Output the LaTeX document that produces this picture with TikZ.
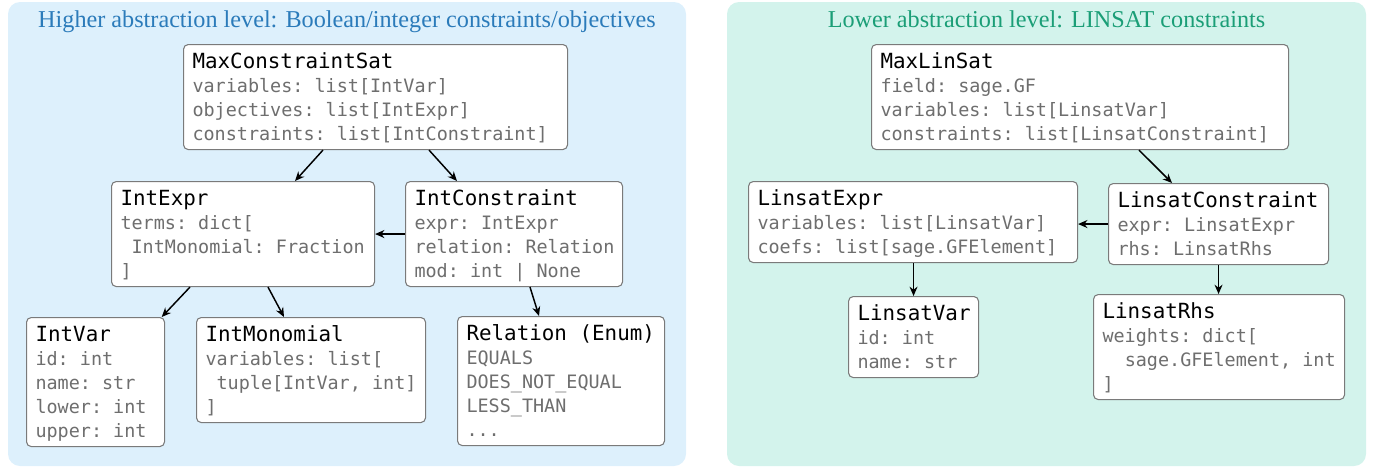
\documentclass[tikz,border=0pt]{standalone}
\usepackage{fontspec}
\setmainfont{Liberation Serif}
\newfontfamily\monofont{DejaVu Sans Mono}
\usetikzlibrary{arrows.meta}
\definecolor{leftbg}{HTML}{DDF0FC}
\definecolor{rightbg}{HTML}{D3F3EC}
\definecolor{lefttitle}{HTML}{2B7BBA}
\definecolor{righttitle}{HTML}{1B9E77}
\definecolor{attgray}{HTML}{6E6E6E}
\definecolor{boxgray}{HTML}{7A7A7A}
\newcommand\monospaces{\spaceskip=0.602em\relax\xspaceskip=0.602em\relax}
\newcommand\cltitle[1]{\mbox{\rule{0pt}{15pt}\fontsize{15.65}{18}\selectfont\monospaces\color{black}#1}}
\newcommand\clattr[1]{\mbox{\monospaces\color{attgray}#1}}
\newcommand\clend{\rule[-3.75pt]{0pt}{3.75pt}}
\newcommand\ind{\phantom{x}}
\begin{document}
\begin{tikzpicture}[x=0.75pt,y=-0.75pt,
  classbox/.style={draw=boxgray, line width=0.8pt, fill=white, rounded corners=3.5pt,
    anchor=north west, align=left, inner xsep=6.75pt, inner ysep=3pt,
    font=\monofont\fontsize{13.83}{18}\selectfont, text width=#1},
  panel/.style={rounded corners=9pt},
  link/.style={-{Stealth[length=7pt,width=6pt]}, line width=1.1pt, black},
  paneltitle/.style={font=\fontsize{18.15}{20}\selectfont, anchor=base, inner sep=0pt}]
\useasboundingbox (0,0) rectangle (1374,468);
\fill[leftbg, panel] (8,2) rectangle (686,466);
\fill[rightbg, panel] (727,2) rectangle (1366,466);
\node[paneltitle, text=lefttitle] (lt) at (347,27) {Higher abstraction level: Boolean/integer constraints/objectives};
\node[paneltitle, text=righttitle] (rt) at (1046.5,27) {Lower abstraction level: LINSAT constraints};
% left panel
\node[classbox=274.5pt] (mcs) at (183,44) {\cltitle{MaxConstraintSat}\\
  \clattr{variables: list[IntVar]}\\
  \clattr{objectives: list[IntExpr]}\\
  \clattr{constraints: list[IntConstraint]}\clend};
\node[classbox=183.75pt] (ie) at (111,181) {\cltitle{IntExpr}\\
  \clattr{terms: dict[}\\
  \clattr{\ind IntMonomial: Fraction}\\
  \clattr{]}\clend};
\node[classbox=149.25pt] (ic) at (405,181) {\cltitle{IntConstraint}\\
  \clattr{expr: IntExpr}\\
  \clattr{relation: Relation}\\
  \clattr{mod: int | None}\clend};
\node[classbox=90pt] (iv) at (26,317) {\cltitle{IntVar}\\
  \clattr{id: int}\\
  \clattr{name: str}\\
  \clattr{lower: int}\\
  \clattr{upper: int}\clend};
\node[classbox=158.25pt] (im) at (196,317) {\cltitle{IntMonomial}\\
  \clattr{variables: list[}\\
  \clattr{\ind tuple[IntVar, int]}\\
  \clattr{]}\clend};
\node[classbox=141.75pt] (rel) at (457,316) {\cltitle{Relation (Enum)}\\
  \clattr{EQUALS}\\
  \clattr{DOES\_NOT\_EQUAL}\\
  \clattr{LESS\_THAN}\\
  \clattr{...}\clend};
% right panel
\node[classbox=299.25pt] (mls) at (871,44) {\cltitle{MaxLinSat}\\
  \clattr{field: sage.GF}\\
  \clattr{variables: list[LinsatVar]}\\
  \clattr{constraints: list[LinsatConstraint]}\clend};
\node[classbox=233.25pt] (le) at (748,181) {\cltitle{LinsatExpr}\\
  \clattr{variables: list[LinsatVar]}\\
  \clattr{coefs: list[sage.GFElement]}\clend};
\node[classbox=151.5pt] (lc) at (1108,183) {\cltitle{LinsatConstraint}\\
  \clattr{expr: LinsatExpr}\\
  \clattr{rhs: LinsatRhs}\clend};
\node[classbox=84pt] (lv) at (848,296) {\cltitle{LinsatVar}\\
  \clattr{id: int}\\
  \clattr{name: str}\clend};
\node[classbox=174.75pt] (lr) at (1093,294) {\cltitle{LinsatRhs}\\
  \clattr{weights: dict[}\\
  \clattr{\ind\ind sage.GFElement, int}\\
  \clattr{]}\clend};
% connectors
\draw[link] ([xshift=105pt]mcs.south west) -- ([xshift=138pt]ie.north west);
\draw[link] ([xshift=184.5pt]mcs.south west) -- ([xshift=39pt]ic.north west);
\draw[link] (ic.west) -- (ic.west -| ie.east);
\draw[link] ([xshift=59.25pt]ie.south west) -- ([xshift=-2.5pt]iv.north east);
\draw[link] ([xshift=117.75pt]ie.south west) -- ([xshift=66pt]im.north west);
\draw[link] ([xshift=93.75pt]ic.south west) -- ([xshift=61.5pt]rel.north west);
\draw[link] ([xshift=201pt]mls.south west) -- ([xshift=48pt]lc.north west);
\draw[link] (lc.west) -- (lc.west -| le.east);
\draw[link] (le.south -| lv.north) -- (lv.north);
\draw[link] (lc.south) -- (lc.south |- lr.north);
\end{tikzpicture}
\end{document}
